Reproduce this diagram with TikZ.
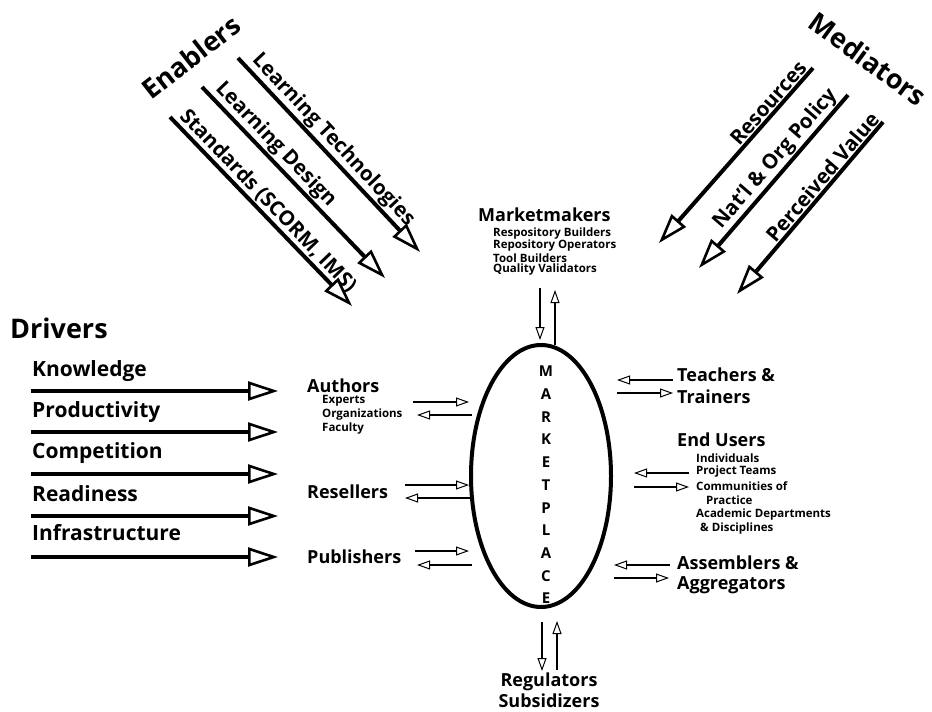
\documentclass[tikz,border=0pt]{standalone}
\usepackage{fontspec}
\setmainfont{Open Sans}
\usetikzlibrary{arrows.meta,shapes.geometric}
\begin{document}
\begin{tikzpicture}[x=1pt,y=-1pt,
  bigarrow/.style={line width=4pt,-{Triangle[open,length=30pt,width=19pt,line width=2.6pt]}},
  smallarrow/.style={line width=2pt,-{Triangle[open,length=13pt,width=9pt,line width=1pt]}},
  head/.style={font=\fontsize{27}{29}\selectfont\bfseries,inner sep=0pt},
  drv/.style={font=\fontsize{21}{23}\selectfont\bfseries,anchor=west,inner sep=0pt},
  diag/.style={font=\fontsize{20.5}{22}\selectfont\bfseries,inner sep=1pt},
  actor/.style={font=\fontsize{18}{19}\selectfont\bfseries,anchor=west,inner sep=0pt},
  item/.style={font=\fontsize{11.5}{12}\selectfont\bfseries,anchor=west,inner sep=0pt},
  letters/.style={font=\fontsize{15}{22.7}\selectfont\bfseries,align=center,inner sep=0pt}]
\useasboundingbox (0,0) rectangle (932,712);

% headings
\node[head,anchor=west] (drivers) at (10,328) {Drivers};
\node[head,rotate=38] (enablers) at (191,57) {Enablers};
\node[head,rotate=-36] (mediators) at (868,59) {Mediators};

% drivers
\foreach \n/\t/\ty/\ay in {knowledge/Knowledge/371/391,productivity/Productivity/412/432,competition/Competition/453/474,readiness/Readiness/494/516,infrastructure/Infrastructure/533/557}{
  \node[drv] (\n) at (32,\ty) {\t};
  \coordinate (\n s) at (31,\ay);
  \coordinate (\n e) at (278,\ay);
  \draw[bigarrow] (\n s) -- (\n e);
}

% enablers
\coordinate (lts) at (238,58);  \coordinate (lte) at (420,252);
\coordinate (lds) at (202,87);  \coordinate (lde) at (385,278);
\coordinate (sts) at (170,117); \coordinate (ste) at (352,306);
\draw[bigarrow] (lts) -- (lte) node[diag,pos=0.47,sloped,above] (lt) {Learning Technologies};
\draw[bigarrow] (lds) -- (lde) node[diag,pos=0.35,sloped,above] (ld) {Learning Design};
\draw[bigarrow] (sts) -- (ste) node[diag,pos=0.49,sloped,above] (st) {Standards (SCORM, IMS)};

% mediators
\coordinate (rss) at (813,68);  \coordinate (rse) at (659,243);
\coordinate (nps) at (848,95);  \coordinate (npe) at (699,268);
\coordinate (pvs) at (883,122); \coordinate (pve) at (737,294);
\draw[bigarrow] (rss) -- (rse) node[diag,pos=0.24,sloped,above] (rs) {Resources};
\draw[bigarrow] (nps) -- (npe) node[diag,pos=0.42,sloped,above] (np) {Nat'l \& Org Policy};
\draw[bigarrow] (pvs) -- (pve) node[diag,pos=0.36,sloped,above] (pv) {Perceived Value};

% marketplace
\node[draw,ellipse,line width=4pt,minimum width=140pt,minimum height=262pt,inner sep=0pt] (mp) at (541,476) {};
\node[letters] (mpl) at (546,485) {M\\A\\R\\K\\E\\T\\P\\L\\A\\C\\E};

% marketmakers
\node[actor] (mm) at (478,215) {Marketmakers};
\node[item] (mm1) at (493,234) {Respository Builders};
\node[item] (mm2) at (493,246) {Repository Operators};
\node[item] (mm3) at (493,258) {Tool Builders};
\node[item] (mm4) at (493,270) {Quality Validators};
\coordinate (mmd1) at (540,288); \coordinate (mmd2) at (540,340);
\coordinate (mmu1) at (555,345); \coordinate (mmu2) at (555,290);
\draw[smallarrow] (mmd1) -- (mmd2);
\draw[smallarrow] (mmu1) -- (mmu2);

% authors
\node[actor] (authors) at (307,386) {Authors};
\node[item] (experts) at (322,401) {Experts};
\node[item] (orgs) at (322,415) {Organizations};
\node[item] (faculty) at (322,429) {Faculty};
\coordinate (au1) at (413,402); \coordinate (au2) at (469,402);
\coordinate (au3) at (472,415); \coordinate (au4) at (417,415);
\draw[smallarrow] (au1) -- (au2);
\draw[smallarrow] (au3) -- (au4);

% resellers
\node[actor] (resellers) at (307,492) {Resellers};
\coordinate (re1) at (405,485); \coordinate (re2) at (469,485);
\coordinate (re3) at (472,498); \coordinate (re4) at (405,498);
\draw[smallarrow] (re1) -- (re2);
\draw[smallarrow] (re3) -- (re4);

% publishers
\node[actor] (publishers) at (307,557) {Publishers};
\coordinate (pu1) at (415,551); \coordinate (pu2) at (469,551);
\coordinate (pu3) at (472,565); \coordinate (pu4) at (417,565);
\draw[smallarrow] (pu1) -- (pu2);
\draw[smallarrow] (pu3) -- (pu4);

% teachers
\node[actor] (teachers) at (677,375) {Teachers \&};
\node[actor] (trainers) at (677,397) {Trainers};
\coordinate (te1) at (673,380); \coordinate (te2) at (617,380);
\coordinate (te3) at (617,393); \coordinate (te4) at (673,393);
\draw[smallarrow] (te1) -- (te2);
\draw[smallarrow] (te3) -- (te4);

% end users
\node[actor] (endusers) at (677,440) {End Users};
\node[item] (eu1) at (696,458) {Individuals};
\node[item] (eu2) at (696,472) {Project Teams};
\node[item] (eu3) at (696,486) {Communities of};
\node[item] (eu4) at (706,500) {Practice};
\node[item] (eu5) at (696,515) {Academic Departments};
\node[item] (eu6) at (700,529) {\& Disciplines};
\coordinate (en1) at (689,473); \coordinate (en2) at (634,473);
\coordinate (en3) at (634,487); \coordinate (en4) at (689,487);
\draw[smallarrow] (en1) -- (en2);
\draw[smallarrow] (en3) -- (en4);

% assemblers
\node[actor] (assemblers) at (677,563) {Assemblers \&};
\node[actor] (aggregators) at (677,585) {Aggregators};
\coordinate (as1) at (670,565); \coordinate (as2) at (614,565);
\coordinate (as3) at (614,578); \coordinate (as4) at (669,578);
\draw[smallarrow] (as1) -- (as2);
\draw[smallarrow] (as3) -- (as4);

% regulators
\node[actor,anchor=center] (regulators) at (549,682) {Regulators};
\node[actor,anchor=center] (subsidizers) at (549,701) {Subsidizers};
\coordinate (rg1) at (542,622); \coordinate (rg2) at (542,671);
\coordinate (rg3) at (557,670); \coordinate (rg4) at (557,621);
\draw[smallarrow] (rg1) -- (rg2);
\draw[smallarrow] (rg3) -- (rg4);
\end{tikzpicture}
\end{document}
